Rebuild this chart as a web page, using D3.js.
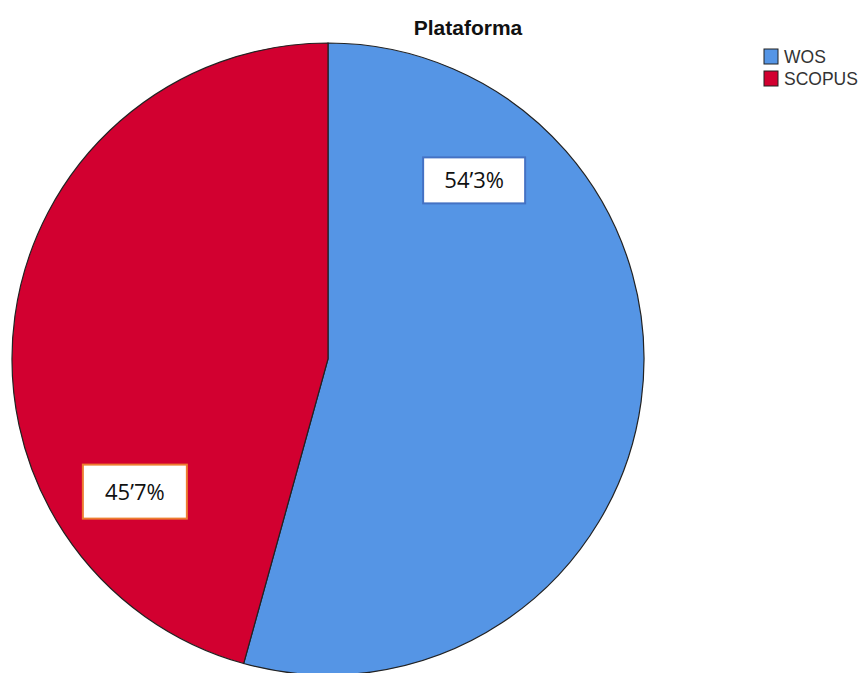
<!DOCTYPE html>
<html>
<head>
<meta charset="utf-8">
<script src="https://cdn.jsdelivr.net/npm/d3@7"></script>
<style>
  body { margin: 0; background: #fff; }
</style>
</head>
<body>
<script>
//chart data
var categories = ["WOS", "SCOPUS"];
var values = [54.3, 45.7];
var labels = ["54’3%", "45’7%"];
var colors = ["#5595E5", "#D20030"];
var boxBorders = ["#4472C4", "#ED7D31"];

var width = 862,
    height = 673;

var svg = d3.select("body")
    .append("svg")
    .attr("width", width)
    .attr("height", height);

var cx = 328, cy = 359, radius = 316;

var pie = d3.pie().sort(null).value(function(d){ return d; });
var arc = d3.arc().innerRadius(0).outerRadius(radius);

var g = svg.append("g")
    .attr("transform", "translate(" + cx + "," + cy + ")");

//slices
g.selectAll(".slice")
    .data(pie(values))
    .enter()
    .append("path")
    .attr("class", "slice")
    .attr("d", arc)
    .attr("fill", function(d, i){ return colors[i]; })
    .attr("stroke", "#222")
    .attr("stroke-width", 1.2);

//label boxes, moved by hand like the reference (centroid + nudge)
var labelArc = d3.arc().innerRadius(radius * 0.62).outerRadius(radius * 0.62);
var nudges = [[-48, -205], [1, 159]];
var boxSizes = [[102, 46], [104, 54]];
var labelG = g.selectAll(".lbl")
    .data(pie(values))
    .enter()
    .append("g")
    .attr("class", "lbl")
    .attr("transform", function(d, i){
        var c = labelArc.centroid(d);
        return "translate(" + (c[0] + nudges[i][0]) + "," + (c[1] + nudges[i][1]) + ")";
    });

labelG.append("rect")
    .attr("x", function(d, i){ return -boxSizes[i][0] / 2; })
    .attr("y", function(d, i){ return -boxSizes[i][1] / 2; })
    .attr("width", function(d, i){ return boxSizes[i][0]; })
    .attr("height", function(d, i){ return boxSizes[i][1]; })
    .attr("fill", "#fff")
    .attr("stroke", function(d, i){ return boxBorders[i]; })
    .attr("stroke-width", 2);

labelG.append("text")
    .attr("x", 0)
    .attr("y", 8)
    .attr("text-anchor", "middle")
    .attr("font-family", "'Open Sans', sans-serif")
    .attr("font-size", 22)
    .attr("fill", "#111")
    .text(function(d, i){ return labels[i]; });

//title
svg.append("text")
    .attr("x", 468)
    .attr("y", 35)
    .attr("text-anchor", "middle")
    .attr("font-family", "'Liberation Sans', Arial, sans-serif")
    .attr("font-weight", "bold")
    .attr("font-size", 21)
    .attr("fill", "#111")
    .text("Plataforma");

//legend
var legend = svg.selectAll(".legend")
    .data(categories)
    .enter()
    .append("g")
    .attr("class", "legend")
    .attr("transform", function(d, i){ return "translate(764," + (49 + i * 22) + ")"; });

legend.append("rect")
    .attr("width", 14)
    .attr("height", 15)
    .attr("fill", function(d, i){ return colors[i]; })
    .attr("stroke", "#222")
    .attr("stroke-width", 1);

legend.append("text")
    .attr("x", 20)
    .attr("y", 14)
    .attr("font-family", "'Liberation Sans', Arial, sans-serif")
    .attr("font-size", 17.5)
    .attr("fill", "#333")
    .text(function(d){ return d; });
</script>
</body>
</html>
